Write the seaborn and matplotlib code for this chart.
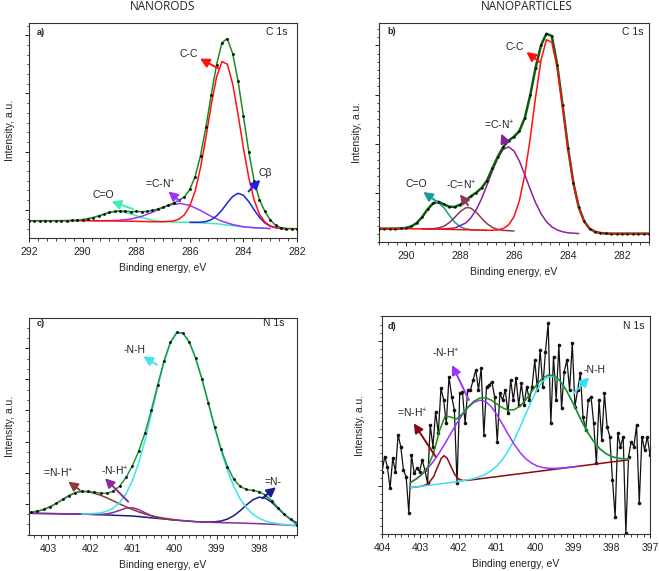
import matplotlib
matplotlib.use('Agg')
import matplotlib.pyplot as plt
import seaborn as sns
from matplotlib.ticker import MultipleLocator, AutoMinorLocator

# ---------------- a) C 1s, nanorods ----------------
a_energy = [292.0, 291.8, 291.6, 291.4, 291.2, 291.0, 290.8, 290.6, 290.4, 290.2, 290.0,
            289.8, 289.6, 289.4, 289.2, 289.0, 288.8, 288.6, 288.4, 288.2, 288.0,
            287.8, 287.6, 287.4, 287.2, 287.0, 286.8, 286.6, 286.4, 286.2, 286.0,
            285.8, 285.6, 285.4, 285.2, 285.0, 284.8, 284.6, 284.4, 284.2, 284.0,
            283.8, 283.6, 283.4, 283.2, 283.0, 282.8, 282.6, 282.4, 282.2, 282.0]
a_counts = [52, 52, 52, 52, 52, 52, 52, 52.3, 52.7, 53.5, 55,
            57.8, 61.6, 66.4, 71.7, 76.8, 80, 81.5, 80.5, 79, 80,
            79, 80, 83, 87, 92.5, 99, 106, 113, 124, 146,
            185, 248, 333, 431, 522, 588, 600, 555, 473, 367,
            260, 172, 115, 80, 55, 38, 31, 28.5, 28, 28]

a_cc_e = [292, 291, 290, 289, 288, 287.4, 287, 286.6, 286.4, 286.2, 286.0, 285.8, 285.6, 285.4,
          285.2, 285.0, 284.8, 284.6, 284.4, 284.2, 284.0, 283.8, 283.6, 283.4, 283.2, 283.0,
          282.8, 282.6, 282.4, 282.0]
a_cc = [52, 52, 52, 51.5, 50, 49, 48.7, 51.4, 57, 70, 96, 141.5, 211.5, 302,
        401, 485, 531, 523, 464, 372, 271, 181.5, 114.5, 71.5, 48, 36,
        31, 28.8, 28, 28]

a_cb_e = [286.0, 285.6, 285.4, 285.2, 285.0, 284.8, 284.6, 284.4, 284.2, 284.0, 283.8, 283.6,
          283.4, 283.2, 283.0, 282.8, 282.6, 282.4]
a_cb = [47, 47.5, 49.4, 55, 66.6, 84, 105.7, 125, 134.5, 128.6, 109.5, 85,
        62, 45.4, 35.6, 31.2, 28.9, 28]

a_cn_e = [289.6, 289.0, 288.6, 288.2, 287.8, 287.4, 287.0, 286.7, 286.35, 286.0, 285.6, 285.2,
          284.8, 284.4, 284.0, 283.6, 283.0]
a_cn = [52, 52.2, 53.5, 57.1, 65, 77.4, 91.6, 100, 103.8, 98, 83, 65,
        50.4, 40.3, 34, 30.7, 28.5]

a_co_e = [290.6, 290.2, 289.8, 289.4, 289.0, 288.65, 288.2, 287.8, 287.4, 287.0, 286.6, 286.0,
          285.0, 284.0, 283.0]
a_co = [52.3, 53.5, 57.8, 66.4, 76.5, 80, 72.9, 61.7, 53.3, 49.5, 48.2, 47,
        43, 33, 28.5]

# ---------------- b) C 1s, nanoparticles ----------------
b_energy = [291.0, 290.8, 290.6, 290.4, 290.2, 290.0, 289.8, 289.6, 289.4, 289.2, 289.0,
            288.8, 288.6, 288.4, 288.2, 288.0, 287.8, 287.6, 287.4, 287.2, 287.0,
            286.8, 286.6, 286.4, 286.2, 286.0, 285.8, 285.6, 285.4, 285.2, 285.0,
            284.8, 284.6, 284.4, 284.2, 284.0, 283.8, 283.6, 283.4, 283.2, 283.0,
            282.8, 282.6, 282.4, 282.2, 282.0, 281.8, 281.6, 281.4, 281.2, 281.0]
b_counts = [40, 40, 40, 40, 40.5, 42, 47, 57, 75, 98, 116,
            121, 113, 106, 105, 112, 124, 137, 148, 162, 184,
            221, 256, 285, 304, 316, 333, 372, 440, 523, 590,
            625, 618, 532, 410, 283, 177, 104, 62, 40, 31,
            27, 25.5, 25, 25, 25, 25, 25, 25, 25, 25]

b_cc_e = [291, 290, 289, 288, 287.4, 287.0, 286.8, 286.6, 286.4, 286.2, 286.0, 285.8, 285.6,
          285.4, 285.2, 285.0, 284.8, 284.6, 284.4, 284.2, 284.0, 283.8, 283.6, 283.4, 283.2,
          283.0, 282.8, 282.6, 282.4, 281.0]
b_cc = [40, 40, 39, 37, 35.8, 35, 35.2, 36.3, 40.3, 51.2, 75.8, 123.6, 202.2,
        310.6, 434.8, 545, 607, 599.4, 523.6, 406.3, 281, 176.6, 104.3, 61.1, 39.7,
        30.2, 26.6, 25.5, 25, 25]

b_cn_e = [289.4, 289.0, 288.6, 288.2, 287.8, 287.6, 287.4, 287.2, 287.0, 286.8, 286.6, 286.4,
          286.2, 286.0, 285.8, 285.6, 285.4, 285.2, 285.0, 284.8, 284.6, 284.4, 284.2, 284.0,
          283.6]
b_cn = [39.4, 39, 39, 42, 56.3, 72.3, 96.8, 130, 170.6, 213.6, 251.7, 277.8,
        285.4, 273, 242.6, 202, 158.6, 117.8, 85, 61, 45.4, 36.2, 30.7, 27.6,
        25.3]

b_cdn_e = [289.4, 289.0, 288.8, 288.6, 288.4, 288.2, 288.0, 287.8, 287.7, 287.6, 287.4, 287.2,
           287.0, 286.8, 286.6, 286.4, 286.0]
b_cdn = [39.4, 40, 42, 47.2, 57.8, 73.4, 90.6, 101.9, 103.4, 101.5, 89.4, 71.4,
         55, 43.6, 37.6, 34.8, 33]

b_co_e = [290.4, 290.0, 289.8, 289.6, 289.4, 289.2, 289.0, 288.87, 288.8, 288.6, 288.4, 288.2,
          288.0, 287.8, 287.6, 287.4, 287.0]
b_co = [40.1, 42.2, 46.7, 57.3, 75.4, 98, 115, 118.7, 117.6, 103.2, 80.6, 59.8,
        46.4, 39.7, 37, 36, 35]

# ---------------- c) N 1s, nanorods ----------------
c_energy = [403.40, 403.25, 403.10, 402.95, 402.80, 402.65, 402.50, 402.35, 402.20, 402.05,
            401.90, 401.75, 401.60, 401.45, 401.30, 401.15, 401.00, 400.85, 400.70, 400.55,
            400.40, 400.25, 400.10, 399.95, 399.80, 399.65, 399.50, 399.35, 399.20, 399.05,
            398.90, 398.75, 398.60, 398.45, 398.30, 398.15, 398.00, 397.85, 397.70, 397.55,
            397.40, 397.25, 397.10]
c_counts = [68.3, 71.4, 76.6, 84.6, 94.8, 106.7, 118.2, 126.7, 131, 130.4,
            128.3, 125.2, 125, 131.1, 146.7, 172.6, 207.5, 251.1, 306.6, 374.6,
            450, 521.5, 577.3, 606.6, 604.8, 577.4, 529, 466, 395.1, 323.1,
            258, 205.2, 167.5, 145.5, 136.4, 133.5, 129.9, 119.8, 102.9, 82.3,
            62.6, 46.9, 30]

c_nh_e = [402.20, 402.05, 401.90, 401.75, 401.60, 401.45, 401.30, 401.15, 401.00, 400.85,
          400.70, 400.55, 400.40, 400.25, 400.10, 399.95, 399.80, 399.65, 399.50, 399.35,
          399.20, 399.05, 398.90, 398.75, 398.60, 398.45, 398.30, 398.15, 398.00, 397.85,
          397.70, 397.55, 397.40, 397.25, 397.10]
c_nh = [63, 63.3, 64.7, 66.4, 71.4, 80.7, 97.2, 123.7, 163, 216.2,
        283.9, 362.1, 443.8, 518.5, 575.9, 605.8, 604.4, 577.4, 529, 465.8,
        394.5, 321.3, 253.2, 194.4, 146.1, 108.9, 81.8, 62.9, 50.5, 42.3,
        37.1, 33.8, 31.5, 29.6, 28.2]

c_dnh_e = [403.40, 403.25, 403.10, 402.95, 402.80, 402.65, 402.50, 402.35, 402.20, 402.05,
           401.90, 401.75, 401.60, 401.45, 401.30, 401.15, 401.00, 400.85, 400.70, 400.55,
           400.40, 400.25, 400.10, 399.95]
c_dnh = [68.3, 71.4, 76.6, 84.6, 94.8, 106.7, 118.2, 126.7, 130.6, 129.3,
         125.2, 118.9, 111, 102.2, 93, 84.3, 76.6, 69.2, 62.9, 57.8,
         53.7, 50.4, 47.6, 45.3]

c_nhp = [65, 64.8, 64.6, 64.4, 64.1, 63.8, 63.5, 63.0, 62.6, 62.2,
         61.6, 61.9, 63.4, 67.6, 74.1, 80.4, 81.9, 76.1, 66.6, 57.9,
         52.1, 48.6, 46.2, 44.5, 43.0, 41.5, 40.0, 39.2, 38.5, 37.7,
         37.2, 36.8, 36.3, 35.8, 35.2, 34.6, 34.0, 33.1, 32.2, 31.3,
         30.3, 29.1, 28.0]

c_n_e = [403.40, 402.0, 401.0, 400.0, 399.50, 399.35, 399.20, 399.05, 398.90, 398.75, 398.60,
         398.45, 398.30, 398.15, 398.00, 397.85, 397.70, 397.55, 397.40, 397.25, 397.10]
c_n = [65, 62, 57, 45, 40, 39.4, 39.1, 39.5, 42, 47.6, 57.7,
       72.4, 89.8, 105.2, 113.4, 110.6, 98, 79.8, 61.4, 46.4, 36.4]

# ---------------- d) N 1s, nanoparticles ----------------
d_energy = [404.00, 403.93, 403.86, 403.79, 403.72, 403.65, 403.58, 403.51, 403.44, 403.37,
            403.30, 403.23, 403.16, 403.09, 403.02, 402.95, 402.88, 402.81, 402.74, 402.67,
            402.60, 402.53, 402.46, 402.39, 402.32, 402.25, 402.18, 402.11, 402.04, 401.97,
            401.90, 401.83, 401.76, 401.69, 401.62, 401.55, 401.48, 401.41, 401.34, 401.27,
            401.20, 401.13, 401.06, 400.99, 400.92, 400.85, 400.78, 400.71, 400.64, 400.57,
            400.50, 400.43, 400.36, 400.29, 400.22, 400.15, 400.08, 400.01, 399.94, 399.87,
            399.80, 399.73, 399.66, 399.59, 399.52, 399.45, 399.38, 399.31, 399.24, 399.17,
            399.10, 399.03, 398.96, 398.89, 398.82, 398.75, 398.68, 398.61, 398.54, 398.47,
            398.40, 398.33, 398.26, 398.19, 398.12, 398.05, 397.98, 397.91, 397.84, 397.77,
            397.70, 397.63, 397.56, 397.49, 397.42, 397.35, 397.28, 397.21, 397.14, 397.07,
            397.00]
d_counts = [187, 232, 202, 137, 227, 187, 297, 262, 192, 172,
            64, 237, 182, 197, 187, 222, 192, 152, 327, 262,
            367, 302, 437, 402, 332, 472, 412, 372, 152, 422,
            427, 332, 432, 432, 462, 492, 432, 497, 297, 442,
            447, 457, 412, 277, 422, 402, 432, 362, 462, 402,
            467, 387, 452, 387, 442, 402, 442, 522, 432, 552,
            442, 547, 632, 332, 532, 402, 567, 377, 487, 522,
            432, 572, 382, 432, 482, 352, 312, 402, 412, 332,
            212, 402, 282, 422, 322, 292, 162, 52, 302, 262,
            292, 2, 232, 277, 262, 327, 92, 292, 252, 292,
            237]

d_fit_e = [403.25, 403.10, 402.95, 402.80, 402.65, 402.50, 402.35, 402.20, 402.05, 401.90,
           401.75, 401.60, 401.45, 401.30, 401.15, 401.00, 400.85, 400.70, 400.55, 400.40,
           400.25, 400.10, 399.95, 399.80, 399.65, 399.50, 399.35, 399.20, 399.05, 398.90,
           398.75, 398.60, 398.45, 398.30, 398.15, 398.00, 397.85, 397.70, 397.55]
d_envelope = [155, 165.7, 179.7, 201.8, 243.6, 309.6, 354.2, 350.6, 345, 360.8,
              381.6, 398.2, 407.8, 408.8, 401.8, 389.9, 378.3, 371.5, 372.8, 383.4,
              402, 425.7, 449.5, 468.2, 477.3, 474.7, 459.8, 434.2, 401.4, 365.8,
              330.9, 299.6, 274, 254.6, 241, 232.4, 227.6, 225.5, 225.2]
d_nh = [139.1, 141.3, 143.5, 145.7, 147.9, 150.1, 152.3, 154.5, 156.7, 159.7,
        162.7, 166.6, 171.8, 179, 189.4, 203.9, 223.8, 249.8, 281.8, 318.9,
        358.7, 398, 432.8, 458.6, 472.1, 472, 458.5, 433.6, 401.4, 365.8,
        330.9, 299.6, 274, 254.6, 241, 232.4, 227.6, 225.5, 225.2]
d_nhp = [155, 165.7, 179.7, 197.4, 219, 244.3, 272.4, 302.2, 331.5, 358.2,
         380, 394.9, 401.5, 397.5, 382.3, 358.1, 328.8, 298.2, 269.7, 245.4,
         226.4, 213, 204.2, 199.3, 197.1, 196.8, 197.6, 199, 200.6, 202.8]
d_dnh_e = [403.25, 403.10, 402.95, 402.80, 402.65, 402.55, 402.45, 402.38, 402.30, 402.20,
           402.10, 402.00, 401.90, 401.75, 397.55]
d_dnh = [139.1, 141.3, 143.5, 150.1, 172.5, 200.7, 227.4, 234.9, 227.7, 202.9,
         178.5, 164.9, 160.7, 161.1, 222.6]


sns.set_theme(style='ticks')
plt.rcParams['font.family'] = ['Liberation Sans', 'DejaVu Sans']
plt.rcParams['mathtext.fontset'] = 'custom'
plt.rcParams['mathtext.rm'] = 'Liberation Sans'

LBL = 7.5


def curve(ax, x, y, color, lw=1.1, z=2):
    sns.lineplot(x=x, y=y, color=color, lw=lw, sort=False, estimator=None, ax=ax, zorder=z)


def dots(ax, x, y, s=4):
    sns.scatterplot(x=x, y=y, color='black', s=s, linewidth=0, ax=ax, zorder=5)


def arrow(ax, text, tail, head, txt, color):
    ax.annotate('', xy=head, xytext=tail,
                arrowprops=dict(arrowstyle='-|>,head_length=0.55,head_width=0.28', color=color,
                                lw=1.4, shrinkA=0, shrinkB=0, mutation_scale=10), zorder=6)
    ax.text(txt[0], txt[1], text, ha='center', va='center', fontsize=LBL, color='#222222', zorder=7)


def style(ax, xlim, ylim, xmajor, yticks, yminor, ylabpad, letter, core, lx, ly, cx):
    ax.set_xlim(xlim)
    ax.set_ylim(ylim)
    ax.xaxis.set_major_locator(MultipleLocator(xmajor))
    ax.set_yticks(yticks)
    ax.xaxis.set_minor_locator(AutoMinorLocator(6))
    ax.yaxis.set_minor_locator(AutoMinorLocator(yminor))
    ax.tick_params(which='major', direction='out', length=3.2, width=0.7, labelsize=LBL,
                   pad=3.5, colors='#222222', left=True, bottom=True, labelleft=False)
    ax.tick_params(which='minor', direction='out', length=1.8, width=0.6, left=True, bottom=True)
    for sp in ax.spines.values():
        sp.set_visible(True)
        sp.set_linewidth(0.8)
        sp.set_color('#333333')
    ax.set_xlabel('Binding energy, eV', fontsize=LBL, labelpad=4, color='#222222')
    ax.set_ylabel('Intensity, a.u.', fontsize=LBL, labelpad=ylabpad, color='#222222')
    ax.text(lx, ly, letter, transform=ax.transAxes, fontsize=6.5, fontweight='bold',
            ha='left', va='center', color='#222222')
    ax.text(cx, ly, core, transform=ax.transAxes, fontsize=LBL, ha='right', va='center',
            color='#222222')


fig = plt.figure(figsize=(6.59, 5.71), dpi=100)

# ---- a ----
ax = fig.add_axes([0.044, 0.5832, 0.4067, 0.3765])
curve(ax, a_co_e, a_co, '#3cf0b0')
curve(ax, a_cn_e, a_cn, '#9933ff')
curve(ax, a_cb_e, a_cb, '#1f1fe0')
curve(ax, a_cc_e, a_cc, '#ff1010')
curve(ax, a_energy, a_counts, '#1f8a1f', z=4)
dots(ax, a_energy, a_counts)
style(ax, (292, 282), (0, 647), 2, [85, 260, 435, 610], 6, 5, 'a)', 'C 1s', 0.03, 0.958, 0.965)
arrow(ax, 'C-C', (284.93, 510), (285.62, 540), (286.05, 555), '#ff1010')
arrow(ax, 'C\u03b2', (283.81, 140), (283.37, 175), (283.18, 195), '#1f1fe0')
arrow(ax, '=C-N$^{+}$', (286.36, 110), (286.8, 140), (287.11, 160), '#9933ff')
arrow(ax, 'C=O', (288.11, 87), (288.92, 110), (289.23, 130), '#3cf0b0')

# ---- b ----
ax = fig.add_axes([0.5751, 0.5762, 0.4097, 0.3835])
curve(ax, b_co_e, b_co, '#1a9a9a')
curve(ax, b_cdn_e, b_cdn, '#8b3a4f')
curve(ax, b_cn_e, b_cn, '#8e1f9e')
curve(ax, b_energy, b_counts, '#0d5c0d', lw=1.8, z=3)
curve(ax, b_cc_e, b_cc, '#ff1010', z=4)
dots(ax, b_energy, b_counts, s=3)
style(ax, (291, 281), (0, 657), 2, [147.5, 295, 442.5, 590], 6, 7, 'b)', 'C 1s', 0.03, 0.959, 0.978)
arrow(ax, 'C-C', (285.05, 540), (285.54, 570), (285.98, 585), '#ff1010')
arrow(ax, '=C-N$^{+}$', (286.34, 300), (286.47, 325), (286.53, 350), '#8e1f9e')
arrow(ax, '-C=N$^{+}$', (287.7, 110), (288.0, 143), (287.94, 170), '#8b3a4f')
arrow(ax, 'C=O', (288.84, 120), (289.36, 150), (289.63, 175), '#1a9a9a')

# ---- c ----
ax = fig.add_axes([0.044, 0.0630, 0.4067, 0.3801])
curve(ax, c_n_e, c_n, '#1a1a8c')
curve(ax, c_energy, c_nhp, '#8b2a9b')
curve(ax, c_dnh_e, c_dnh, '#8b3a3a')
curve(ax, c_nh_e, c_nh, '#3ee3f0')
curve(ax, c_energy, c_counts, '#1f9a3a', z=4)
dots(ax, c_energy, c_counts)
style(ax, (403.45, 397.1), (0, 650), 1, [94, 187, 280, 374, 468, 561], 3, 5, 'c)', 'N 1s', 0.03, 0.976, 0.955)
arrow(ax, '-N-H', (400.42, 510), (400.74, 535), (400.94, 555), '#3ee3f0')
arrow(ax, '=N-H$^{+}$', (402.25, 135), (402.52, 160), (402.76, 185), '#8b3a3a')
arrow(ax, '-N-H$^{+}$', (401.1, 100), (401.65, 170), (401.41, 190), '#8b2a9b')
arrow(ax, '=N-', (397.92, 110), (397.6, 143), (397.68, 160), '#1a1a8c')

# ---- d ----
ax = fig.add_axes([0.5797, 0.0648, 0.4066, 0.3818])
sns.lineplot(x=d_energy, y=d_counts, color='#111111', lw=0.9, sort=False, estimator=None,
             marker='o', markersize=2.6, markeredgewidth=0, ax=ax, zorder=2)
curve(ax, d_dnh_e, d_dnh, '#8b0a0a', z=3)
curve(ax, d_fit_e, d_nh, '#38e0f5', z=3)
curve(ax, d_fit_e[:len(d_nhp)], d_nhp, '#9933ff', z=3)
curve(ax, d_fit_e, d_envelope, '#1f8a1f', z=4)
style(ax, (404, 397), (0, 654), 1, [145, 290, 435, 580], 6, 7, 'd)', 'N 1s', 0.022, 0.954, 0.981)
arrow(ax, '-N-H$^{+}$', (401.73, 402), (402.17, 507), (402.34, 542), '#9933ff')
arrow(ax, '=N-H$^{+}$', (402.6, 232), (403.17, 332), (403.22, 362), '#8b0a0a')
arrow(ax, '-N-H', (398.99, 422), (398.59, 470), (398.46, 492), '#38e0f5')

fig.text(0.2473, 0.989, 'NANORODS', family='Open Sans', fontsize=8.5, ha='center', va='center',
         color='#222222')
fig.text(0.80, 0.989, 'NANOPARTICLES', family='Open Sans', fontsize=8.5, ha='center', va='center',
         color='#222222')

fig.savefig('out.png', dpi=100)
